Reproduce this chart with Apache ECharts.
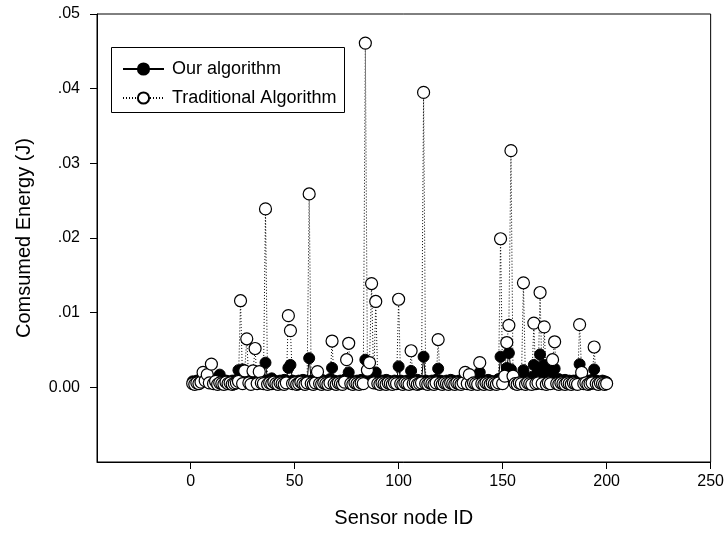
<!DOCTYPE html>
<html>
<head>
<meta charset="utf-8">
<script src="https://cdn.jsdelivr.net/npm/echarts@6/dist/echarts.min.js"></script>
<style>html,body{margin:0;padding:0;background:#fff;}#c{width:727px;height:533px;}</style>
</head>
<body>
<div id="c"></div>
<script>
// Sensor node IDs
const nodeIds = [
  1,2,3,4,5,6,7,8,9,10,11,12,13,14,15,16,17,18,19,20,
  21,22,23,24,25,26,27,28,29,30,31,32,33,34,35,36,37,38,39,40,
  41,42,43,44,45,46,47,48,49,50,51,52,53,54,55,56,57,58,59,60,
  61,62,63,64,65,66,67,68,69,70,71,72,73,74,75,76,77,78,79,80,
  81,82,83,84,85,86,87,88,89,90,91,92,93,94,95,96,97,98,99,100,
  101,102,103,104,105,106,107,108,109,110,111,112,113,114,115,116,117,118,119,120,
  121,122,123,124,125,126,127,128,129,130,131,132,133,134,135,136,137,138,139,140,
  141,142,143,144,145,146,147,148,149,150,151,152,153,154,155,156,157,158,159,160,
  161,162,163,164,165,166,167,168,169,170,171,172,173,174,175,176,177,178,179,180,
  181,182,183,184,185,186,187,188,189,190,191,192,193,194,195,196,197,198,199,200
];

// Consumed energy (J) - Our algorithm
const ourAlgorithm = [
  0.0008,0.0007,0.0009,0.0008,0.0007,0.0009,0.0008,0.0010,0.0009,0.0011,
  0.0008,0.0009,0.0010,0.0017,0.0008,0.0007,0.0009,0.0008,0.0007,0.0009,
  0.0008,0.0010,0.0023,0.0011,0.0024,0.0009,0.0012,0.0008,0.0009,0.0010,
  0.0011,0.0008,0.0009,0.0007,0.0010,0.0033,0.0009,0.0008,0.0012,0.0009,
  0.0008,0.0007,0.0009,0.0008,0.0010,0.0009,0.0026,0.0030,0.0009,0.0008,
  0.0007,0.0009,0.0008,0.0010,0.0009,0.0008,0.0039,0.0009,0.0008,0.0007,
  0.0009,0.0008,0.0010,0.0009,0.0008,0.0007,0.0011,0.0026,0.0009,0.0008,
  0.0007,0.0009,0.0008,0.0010,0.0012,0.0020,0.0009,0.0008,0.0007,0.0009,
  0.0008,0.0010,0.0009,0.0037,0.0012,0.0011,0.0016,0.0009,0.0020,0.0008,
  0.0007,0.0009,0.0008,0.0010,0.0009,0.0008,0.0007,0.0009,0.0008,0.0028,
  0.0009,0.0008,0.0007,0.0009,0.0008,0.0022,0.0009,0.0008,0.0010,0.0009,
  0.0008,0.0041,0.0009,0.0008,0.0007,0.0009,0.0008,0.0010,0.0025,0.0009,
  0.0008,0.0007,0.0009,0.0008,0.0010,0.0009,0.0008,0.0007,0.0009,0.0008,
  0.0010,0.0012,0.0009,0.0011,0.0008,0.0010,0.0012,0.0009,0.0020,0.0008,
  0.0009,0.0008,0.0010,0.0009,0.0008,0.0007,0.0009,0.0011,0.0041,0.0009,
  0.0012,0.0026,0.0046,0.0024,0.0011,0.0009,0.0008,0.0010,0.0009,0.0023,
  0.0009,0.0011,0.0010,0.0014,0.0030,0.0012,0.0021,0.0044,0.0018,0.0030,
  0.0012,0.0025,0.0010,0.0020,0.0025,0.0009,0.0011,0.0008,0.0009,0.0010,
  0.0008,0.0009,0.0007,0.0009,0.0008,0.0010,0.0031,0.0009,0.0008,0.0007,
  0.0009,0.0008,0.0010,0.0024,0.0009,0.0008,0.0007,0.0009,0.0008,0.0007
];

// Consumed energy (J) - Traditional Algorithm
const traditionalAlgorithm = [
  0.0005,0.0004,0.0006,0.0005,0.0007,0.0020,0.0009,0.0017,0.0006,0.0031,
  0.0005,0.0008,0.0004,0.0006,0.0005,0.0004,0.0007,0.0005,0.0006,0.0004,
  0.0005,0.0006,0.0008,0.0116,0.0005,0.0022,0.0065,0.0006,0.0004,0.0022,
  0.0052,0.0005,0.0021,0.0006,0.0005,0.0239,0.0004,0.0006,0.0005,0.0007,
  0.0005,0.0004,0.0006,0.0005,0.0004,0.0006,0.0096,0.0076,0.0005,0.0006,
  0.0004,0.0005,0.0007,0.0005,0.0004,0.0006,0.0259,0.0005,0.0004,0.0006,
  0.0021,0.0005,0.0004,0.0006,0.0005,0.0004,0.0006,0.0062,0.0005,0.0004,
  0.0006,0.0005,0.0004,0.0007,0.0037,0.0059,0.0005,0.0004,0.0006,0.0005,
  0.0004,0.0006,0.0005,0.0461,0.0023,0.0033,0.0139,0.0006,0.0115,0.0005,
  0.0004,0.0006,0.0005,0.0004,0.0006,0.0005,0.0004,0.0006,0.0005,0.0118,
  0.0005,0.0004,0.0006,0.0005,0.0004,0.0049,0.0005,0.0006,0.0004,0.0005,
  0.0006,0.0395,0.0005,0.0004,0.0006,0.0005,0.0004,0.0006,0.0064,0.0005,
  0.0004,0.0006,0.0005,0.0004,0.0006,0.0005,0.0004,0.0006,0.0005,0.0004,
  0.0006,0.0020,0.0005,0.0017,0.0004,0.0006,0.0005,0.0004,0.0033,0.0005,
  0.0004,0.0006,0.0005,0.0004,0.0006,0.0005,0.0004,0.0006,0.0199,0.0005,
  0.0015,0.0060,0.0083,0.0317,0.0015,0.0005,0.0004,0.0006,0.0005,0.0140,
  0.0004,0.0006,0.0005,0.0004,0.0086,0.0005,0.0006,0.0127,0.0005,0.0081,
  0.0004,0.0006,0.0005,0.0037,0.0061,0.0005,0.0004,0.0006,0.0005,0.0004,
  0.0006,0.0005,0.0004,0.0006,0.0005,0.0004,0.0084,0.0020,0.0005,0.0006,
  0.0004,0.0005,0.0006,0.0054,0.0005,0.0004,0.0006,0.0005,0.0004,0.0005
];

const xTicks = [0, 50, 100, 150, 200, 250];
const yTicks = [0, 0.01, 0.02, 0.03, 0.04, 0.05];
const seriesNames = ['Our algorithm', 'Traditional Algorithm'];

const FONT = '"Liberation Sans", Arial, sans-serif';
const chart = echarts.init(document.getElementById('c'), null, {renderer: 'canvas'});

function pairs(vals) { return nodeIds.map((id, i) => [id, vals[i]]); }

chart.setOption({
  animation: false,
  backgroundColor: '#fff',
  textStyle: {fontFamily: FONT, color: '#000'},
  grid: {left: 97, top: 14, right: 13, bottom: 70, show: true, borderColor: '#000', borderWidth: 1, backgroundColor: 'transparent'},
  xAxis: {
    type: 'value', min: -45, max: 250,
    name: 'Sensor node ID', nameLocation: 'middle', nameGap: 46,
    nameTextStyle: {fontSize: 20, color: '#000', fontFamily: FONT},
    axisLine: {show: true, onZero: false, lineStyle: {color: '#000', width: 1}},
    axisTick: {show: true, customValues: xTicks, length: 7, lineStyle: {color: '#000'}},
    axisLabel: {customValues: xTicks, fontSize: 16, color: '#000', margin: 12, fontFamily: FONT},
    splitLine: {show: false}
  },
  yAxis: {
    type: 'value', min: -0.01, max: 0.05,
    name: 'Comsumed Energy (J)', nameLocation: 'middle', nameGap: 63,
    nameTextStyle: {fontSize: 20, color: '#000', fontFamily: FONT},
    axisLine: {show: true, onZero: false, lineStyle: {color: '#000', width: 1}},
    axisTick: {show: true, customValues: yTicks, length: 7, lineStyle: {color: '#000'}},
    axisLabel: {customValues: yTicks, fontSize: 16, color: '#000', margin: 17, fontFamily: FONT,
      formatter: v => Math.abs(v) < 1e-9 ? '0.00' : '.0' + Math.round(v * 100)},
    splitLine: {show: false}
  },
  legend: {
    data: seriesNames, orient: 'vertical', left: 122, top: 60,
    itemWidth: 41, itemHeight: 14, itemGap: 11, padding: 0,
    textStyle: {fontSize: 18, color: '#000', fontFamily: FONT, padding: [0, 0, 0, 3]}
  },
  graphic: [{
    type: 'rect', left: 109, top: 45, z: 0,
    shape: {width: 233, height: 65},
    style: {fill: 'none', stroke: '#000', lineWidth: 1}
  }],
  series: [
    {
      name: seriesNames[0], type: 'line', data: pairs(ourAlgorithm),
      symbol: 'circle', symbolSize: 11,
      itemStyle: {color: '#000', borderColor: '#000', borderWidth: 1},
      lineStyle: {color: '#000', width: 1, type: 'solid'}
    },
    {
      name: seriesNames[1], type: 'line', data: pairs(traditionalAlgorithm),
      symbol: 'circle', symbolSize: 12,
      itemStyle: {color: '#fff', borderColor: '#000', borderWidth: 1.2},
      lineStyle: {color: '#000', width: 1, type: [1, 2]}
    }
  ]
});
</script>
</body>
</html>
